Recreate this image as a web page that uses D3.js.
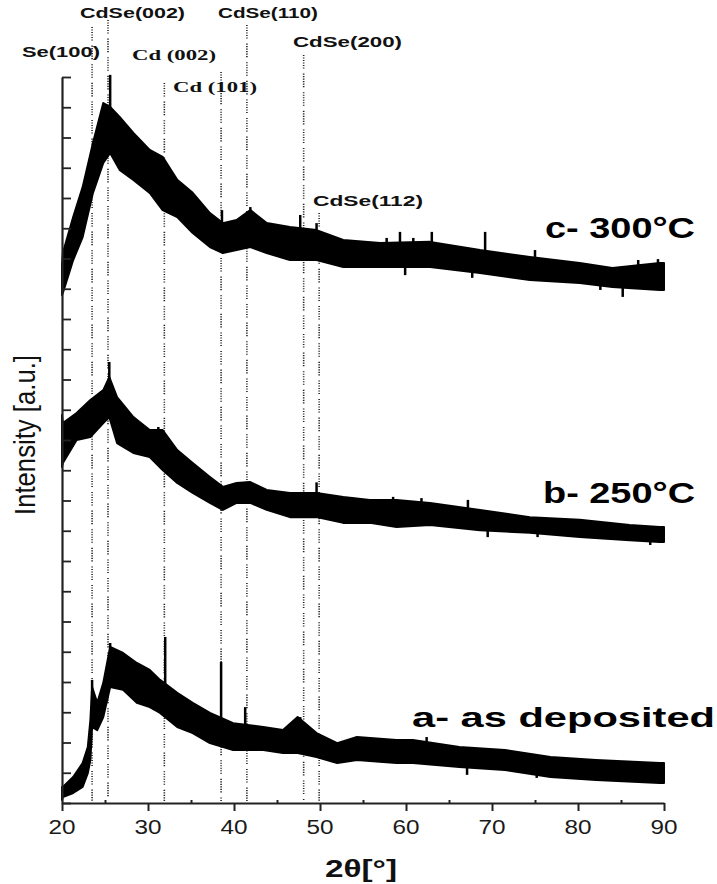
<!doctype HTML>
<html>
<head>
    <style>
        body { margin: 0; background: #fff; }
        .axis path, .axis line { stroke: #222; }
        .peak-line { stroke: #222; stroke-width: 1.6; stroke-dasharray: 1.1,1.4,1.1,1.4,1.1,1.4,1.1,1.4,1.1,1.4,1.1,5; }
    </style>
    <script src="https://d3js.org/d3.v7.min.js"></script>
</head>
<body>
<div id="xrd"></div>
<script>

    // ---- data ----
    var xTicks = [20, 30, 40, 50, 60, 70, 80, 90];
    var xMinorTicks = [25, 35, 45, 55, 65, 75, 85];

    var peakTheta = [23.5, 25.35, 31.9, 38.5, 41.5, 48.1, 49.9];
    var peakNames = ["Se(100)", "CdSe(002)", "Cd (002)", "Cd (101)", "CdSe(110)", "CdSe(200)", "CdSe(112)"];

    // c- 300°C : band (low / high) of the noisy trace
    var cTheta = [20.0, 20.1, 21.3, 22.4, 23.6, 24.8, 25.6, 26.7, 28.3, 30.2, 31.7, 33.4, 35.2, 37.2, 38.7, 40.3, 41.9, 43.8, 46.5, 49.6, 52.7, 57.0, 62.8, 68.6, 74.4, 80.2, 84.0, 89.5, 90.0];
    var cLow   = [16.79, 16.86, 17.95, 18.71, 20.17, 21.16, 21.49, 20.93, 20.60, 20.17, 19.60, 19.37, 18.84, 18.38, 18.18, 18.28, 18.38, 18.18, 17.95, 17.95, 17.72, 17.72, 17.72, 17.52, 17.29, 17.19, 17.06, 16.96, 16.96];
    var cHigh  = [17.79, 18.18, 19.37, 20.36, 21.82, 23.14, 23.01, 22.68, 22.15, 21.59, 21.36, 20.60, 20.17, 19.50, 19.17, 19.27, 19.60, 19.17, 19.04, 18.94, 18.61, 18.51, 18.55, 18.28, 18.05, 17.85, 17.69, 17.85, 17.85];
    var cUpTheta   = [25.6, 38.6, 41.9, 47.7, 49.6, 57.75, 59.3, 60.85, 63.0, 69.2, 75.0, 87.0, 89.3];
    var cUpTop     = [24.07, 19.60, 19.70, 19.44, 19.17, 18.68, 18.88, 18.68, 18.88, 18.88, 18.28, 17.95, 17.98];
    var cDownTheta = [59.9, 67.7, 82.6, 85.2];
    var cDownBot   = [17.45, 17.36, 16.96, 16.73];

    // b- 250°C
    var bTheta = [20.0, 20.1, 21.7, 23.3, 24.8, 25.5, 26.4, 28.3, 30.2, 31.7, 33.4, 35.2, 37.2, 38.7, 40.3, 41.9, 43.8, 46.5, 49.6, 52.7, 55.8, 58.9, 62.8, 68.6, 74.4, 80.2, 86.0, 89.5, 90.0];
    var bLow   = [11.11, 11.24, 12.00, 12.10, 12.56, 12.76, 11.90, 11.57, 11.44, 11.01, 10.58, 10.25, 9.92, 9.69, 9.92, 9.92, 9.69, 9.45, 9.45, 9.26, 9.26, 9.12, 9.19, 9.02, 8.93, 8.79, 8.69, 8.63, 8.63];
    var bHigh  = [12.83, 12.56, 12.89, 13.32, 13.65, 14.08, 13.42, 12.76, 12.33, 12.33, 11.67, 11.24, 10.78, 10.45, 10.58, 10.61, 10.35, 10.25, 10.25, 10.12, 10.02, 10.02, 9.92, 9.69, 9.45, 9.36, 9.19, 9.12, 9.12];
    var bUpTheta   = [25.5, 31.2, 49.6, 58.5, 61.8, 67.2];
    var bUpTop     = [14.58, 12.43, 10.60, 10.12, 10.08, 10.02];
    var bDownTheta = [69.5, 75.3, 88.4];
    var bDownBot   = [8.79, 8.79, 8.53];

    // a- as deposited
    var aTheta = [20.0, 20.1, 21.3, 22.4, 23.0, 23.3, 23.5, 24.1, 24.8, 25.6, 27.1, 28.7, 30.2, 31.4, 33.4, 35.2, 37.2, 39.9, 43.4, 45.7, 47.4, 49.6, 52.0, 54.3, 58.9, 60.8, 66.2, 71.5, 76.8, 82.1, 89.5, 90.0];
    var aLow   = [0.10, 0.20, 0.33, 0.53, 0.99, 1.42, 2.51, 2.41, 2.84, 3.83, 3.74, 3.31, 3.17, 2.98, 2.51, 2.31, 1.98, 1.75, 1.75, 1.65, 1.65, 1.52, 1.32, 1.42, 1.32, 1.32, 1.19, 1.09, 0.86, 0.76, 0.66, 0.66];
    var aHigh  = [0.53, 0.53, 0.86, 1.32, 1.85, 2.74, 3.83, 3.31, 3.97, 5.16, 4.96, 4.63, 4.40, 4.07, 3.64, 3.31, 2.98, 2.64, 2.51, 2.41, 2.84, 2.31, 1.98, 2.18, 2.08, 2.08, 1.85, 1.75, 1.52, 1.42, 1.32, 1.32];
    var aUpTheta   = [23.5, 25.6, 32.0, 38.5, 41.3, 47.7, 62.4];
    var aUpTop     = [4.07, 5.29, 5.49, 4.66, 3.17, 2.84, 2.18];
    var aDownTheta = [67.1, 75.2];
    var aDownBot   = [0.93, 0.83];

    var seriesNames = ["c- 300°C", "b- 250°C", "a- as deposited"];

    // ---- canvas ----
    var canvasWidth = 717;
    var canvasHeight = 884;

    var svg = d3.select("#xrd").append("svg")
        .attr("width", canvasWidth)
        .attr("height", canvasHeight)
        .style("font-family", "'Liberation Sans', Arial, sans-serif");

    var x = d3.scaleLinear().domain([20, 90]).range([62, 664]);
    var y = d3.scaleLinear().domain([0, 24]).range([803, 77]);

    // dotted reference lines for the reflections (top ends in px)
    var lineTops = [27, 20, 83, 72, 25, 55, 213];
    svg.append("g")
        .selectAll("line")
        .data(peakTheta)
        .join("line")
        .attr("class", "peak-line")
        .attr("x1", d => x(d))
        .attr("x2", d => x(d))
        .attr("y1", (d, i) => lineTops[i])
        .attr("y2", 801);

    // reflection labels
    var peakLabelPos = [
        {x: 22,  y: 57,  w: 78,  serif: false},
        {x: 80,  y: 18,  w: 105, serif: false},
        {x: 132, y: 60,  w: 84,  serif: true},
        {x: 173, y: 92,  w: 84,  serif: true},
        {x: 218, y: 18,  w: 100, serif: false},
        {x: 293, y: 47,  w: 109, serif: false},
        {x: 313, y: 206, w: 110, serif: false}
    ];
    svg.append("g")
        .selectAll("text")
        .data(peakNames)
        .join("text")
        .attr("x", (d, i) => peakLabelPos[i].x)
        .attr("y", (d, i) => peakLabelPos[i].y)
        .attr("textLength", (d, i) => peakLabelPos[i].w)
        .attr("lengthAdjust", "spacingAndGlyphs")
        .attr("font-size", "15px")
        .attr("font-weight", "bold")
        .attr("font-family", (d, i) => peakLabelPos[i].serif ? "'Liberation Serif', 'Times New Roman', serif" : "'Liberation Sans', Arial, sans-serif")
        .attr("fill", "#111")
        .text(d => d);

    // traces: filled noise band + the spikes that stick out of it
    function drawTrace(theta, low, high, upTheta, upTop, downTheta, downBot) {
        var pts = theta.map((t, i) => ({t: t, lo: low[i], hi: high[i]}));
        var area = d3.area()
            .x(d => x(d.t))
            .y0(d => y(d.lo))
            .y1(d => y(d.hi));
        svg.append("path")
            .datum(pts)
            .attr("d", area)
            .attr("fill", "#000")
            .attr("stroke", "#000")
            .attr("stroke-width", 2)
            .attr("stroke-linejoin", "round");

        var lowAt = d3.scaleLinear().domain(theta).range(low);
        var highAt = d3.scaleLinear().domain(theta).range(high);
        var spikes = upTheta.map((t, i) => ({t: t, from: lowAt(t), to: upTop[i]}))
            .concat(downTheta.map((t, i) => ({t: t, from: highAt(t), to: downBot[i]})));
        svg.append("g")
            .selectAll("line")
            .data(spikes)
            .join("line")
            .attr("x1", d => x(d.t))
            .attr("x2", d => x(d.t))
            .attr("y1", d => y(d.from))
            .attr("y2", d => y(d.to))
            .attr("stroke", "#000")
            .attr("stroke-width", 2.5);
    }

    drawTrace(cTheta, cLow, cHigh, cUpTheta, cUpTop, cDownTheta, cDownBot);
    drawTrace(bTheta, bLow, bHigh, bUpTheta, bUpTop, bDownTheta, bDownBot);
    drawTrace(aTheta, aLow, aHigh, aUpTheta, aUpTop, aDownTheta, aDownBot);

    // axes
    var xAxis = svg.append("g")
        .attr("class", "axis")
        .attr("transform", "translate(0,803)")
        .call(d3.axisBottom(x).tickValues(xTicks).tickSize(8).tickSizeOuter(0).tickFormat(""));
    xAxis.select(".domain").attr("stroke-width", 2.2);
    xAxis.selectAll(".tick line").attr("stroke-width", 2);

    svg.append("g")
        .attr("class", "axis")
        .attr("transform", "translate(0,803)")
        .call(d3.axisBottom(x).tickValues(xMinorTicks).tickSize(-3).tickSizeOuter(0).tickFormat(""))
        .call(g => g.select(".domain").remove())
        .selectAll(".tick line").attr("stroke-width", 2);

    svg.append("g")
        .selectAll("text")
        .data(xTicks)
        .join("text")
        .attr("x", d => x(d))
        .attr("y", 834)
        .attr("text-anchor", "middle")
        .attr("font-size", "20px")
        .attr("textLength", 27)
        .attr("lengthAdjust", "spacingAndGlyphs")
        .attr("fill", "#1a1a1a")
        .text(d => d);

    var yAxis = svg.append("g")
        .attr("class", "axis")
        .attr("transform", "translate(62,0)")
        .call(d3.axisLeft(y).ticks(24).tickSize(-9).tickSizeOuter(0).tickFormat(""));
    yAxis.select(".domain").attr("stroke-width", 2.2);
    yAxis.selectAll(".tick line").attr("stroke-width", 1.8);

    // axis titles
    svg.append("text")
        .attr("x", 325)
        .attr("y", 877)
        .attr("font-size", "23px")
        .attr("font-weight", "bold")
        .attr("textLength", 72)
        .attr("lengthAdjust", "spacingAndGlyphs")
        .attr("fill", "#111")
        .text("2θ[°]");

    svg.append("text")
        .attr("transform", "translate(35,515) scale(1.45,1) rotate(-90)")
        .attr("font-size", "20px")
        .attr("textLength", 160)
        .attr("lengthAdjust", "spacingAndGlyphs")
        .attr("fill", "#111")
        .text("Intensity [a.u.]");

    // series labels
    var seriesLabelPos = [
        {x: 545, y: 238, w: 150, size: 29},
        {x: 543, y: 503, w: 152, size: 29},
        {x: 412, y: 727, w: 303, size: 28}
    ];
    svg.append("g")
        .selectAll("text")
        .data(seriesNames)
        .join("text")
        .attr("x", (d, i) => seriesLabelPos[i].x)
        .attr("y", (d, i) => seriesLabelPos[i].y)
        .attr("textLength", (d, i) => seriesLabelPos[i].w)
        .attr("lengthAdjust", "spacingAndGlyphs")
        .attr("font-size", (d, i) => seriesLabelPos[i].size + "px")
        .attr("font-weight", "bold")
        .attr("fill", "#000")
        .text(d => d);

</script>
</body>
</html>
